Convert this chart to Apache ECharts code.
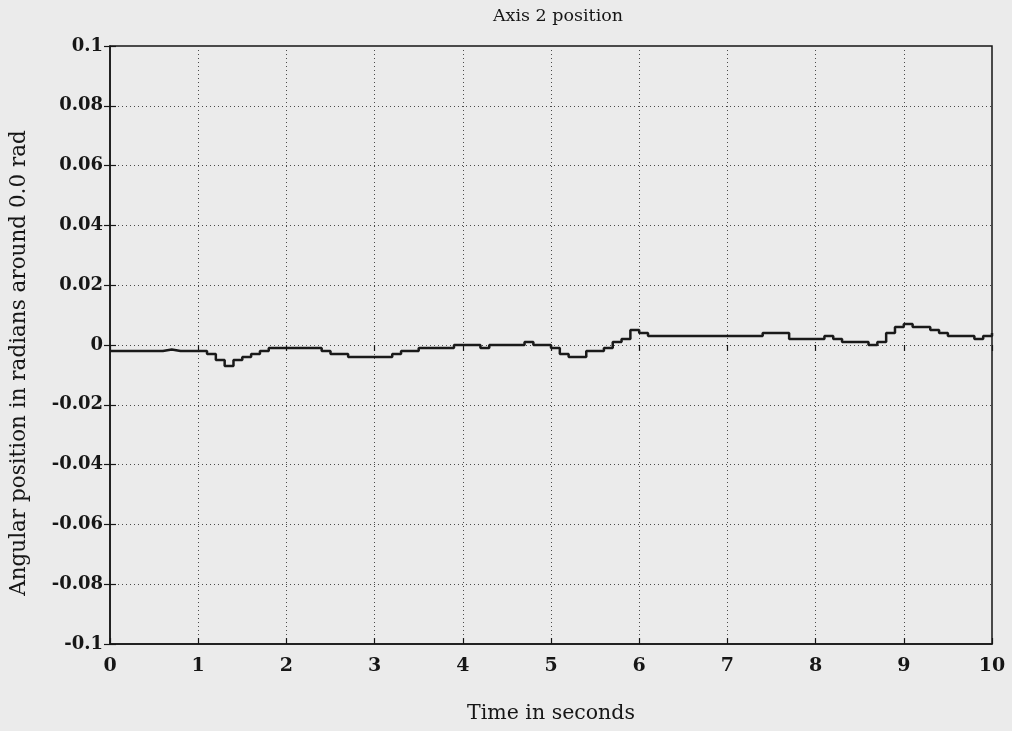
<!DOCTYPE html>
<html>
<head>
<meta charset="utf-8">
<title>Axis 2 position</title>
<script src="https://cdn.jsdelivr.net/npm/echarts@6/dist/echarts.min.js"></script>
<style>
  html, body { margin: 0; padding: 0; background: #ebebeb; }
  #chart { width: 1012px; height: 731px; }
</style>
</head>
<body>
<div id="chart"></div>
<script>
// Sample times (s), one reading every 0.1 s
const timeSeconds = [
  0.0, 0.1, 0.2, 0.3, 0.4, 0.5, 0.6, 0.7, 0.8, 0.9,
  1.0, 1.1, 1.2, 1.3, 1.4, 1.5, 1.6, 1.7, 1.8, 1.9,
  2.0, 2.1, 2.2, 2.3, 2.4, 2.5, 2.6, 2.7, 2.8, 2.9,
  3.0, 3.1, 3.2, 3.3, 3.4, 3.5, 3.6, 3.7, 3.8, 3.9,
  4.0, 4.1, 4.2, 4.3, 4.4, 4.5, 4.6, 4.7, 4.8, 4.9,
  5.0, 5.1, 5.2, 5.3, 5.4, 5.5, 5.6, 5.7, 5.8, 5.9,
  6.0, 6.1, 6.2, 6.3, 6.4, 6.5, 6.6, 6.7, 6.8, 6.9,
  7.0, 7.1, 7.2, 7.3, 7.4, 7.5, 7.6, 7.7, 7.8, 7.9,
  8.0, 8.1, 8.2, 8.3, 8.4, 8.5, 8.6, 8.7, 8.8, 8.9,
  9.0, 9.1, 9.2, 9.3, 9.4, 9.5, 9.6, 9.7, 9.8, 9.9,
  10.0
];

// Axis 2 angular position (rad) around 0.0 rad
const axis2Position = [
  -0.002, -0.002, -0.002, -0.002, -0.002, -0.002, -0.0015, -0.002, -0.002, -0.002,
  -0.002, -0.003, -0.005, -0.007, -0.005, -0.004, -0.003, -0.002, -0.001, -0.001,
  -0.001, -0.001, -0.001, -0.001, -0.002, -0.003, -0.003, -0.004, -0.004, -0.004,
  -0.004, -0.004, -0.003, -0.002, -0.002, -0.001, -0.001, -0.001, -0.001, 0.0,
  0.0, 0.0, -0.001, 0.0, 0.0, 0.0, 0.0, 0.001, 0.0, 0.0,
  -0.001, -0.003, -0.004, -0.004, -0.002, -0.002, -0.001, 0.001, 0.002, 0.005,
  0.004, 0.003, 0.003, 0.003, 0.003, 0.003, 0.003, 0.003, 0.003, 0.003,
  0.003, 0.003, 0.003, 0.003, 0.004, 0.004, 0.004, 0.002, 0.002, 0.002,
  0.002, 0.003, 0.002, 0.001, 0.001, 0.001, 0.0, 0.001, 0.004, 0.006,
  0.007, 0.006, 0.006, 0.005, 0.004, 0.003, 0.003, 0.003, 0.002, 0.003,
  0.004
];

// Tick layout
const xTicks = { min: 0, max: 10, step: 1 };
const yTicks = { min: -0.1, max: 0.1, step: 0.02 };

const FONT = '"DejaVu Serif", "Liberation Serif", serif';
const INK = '#161616';

const fmtY = v => String(parseFloat(Number(v).toFixed(2)));

const gridLine = { show: true, lineStyle: { color: '#4a4a4a', width: 1, type: [1, 3] } };
const innerTick = { show: true, inside: true, length: 6, lineStyle: { color: INK, width: 1.2 } };

const chart = echarts.init(document.getElementById('chart'), null, { renderer: 'canvas' });

chart.setOption({
  backgroundColor: '#ebebeb',
  animation: false,
  title: {
    text: 'Axis 2 position',
    left: 553, top: 2, textAlign: 'center',
    textStyle: { fontFamily: FONT, fontSize: 17.5, fontWeight: 'normal', color: INK }
  },
  grid: {
    left: 109, right: 20, top: 46, bottom: 87,
    show: true, borderColor: INK, borderWidth: 1.5, backgroundColor: 'transparent'
  },
  xAxis: [{
    type: 'value', min: xTicks.min, max: xTicks.max, interval: xTicks.step,
    name: 'Time in seconds', nameLocation: 'middle', nameGap: 59,
    nameTextStyle: { fontFamily: FONT, fontSize: 20.5, color: INK },
    axisLine: { show: true, onZero: false, lineStyle: { color: INK, width: 1.5 } },
    axisTick: innerTick,
    axisLabel: { fontFamily: FONT, fontSize: 19, fontWeight: 'bold', color: INK, margin: 13 },
    splitLine: gridLine
  }, {
    type: 'value', position: 'top', min: xTicks.min, max: xTicks.max, interval: xTicks.step,
    axisLine: { show: false }, axisTick: innerTick, axisLabel: { show: false }, splitLine: { show: false }
  }],
  yAxis: [{
    type: 'value', min: yTicks.min, max: yTicks.max, interval: yTicks.step,
    name: 'Angular position in radians around 0.0 rad', nameLocation: 'middle', nameGap: 80,
    nameTextStyle: { fontFamily: FONT, fontSize: 21.5, color: INK, padding: [0, 36, 0, 0] },
    axisLine: { show: true, onZero: false, lineStyle: { color: INK, width: 1.5 } },
    axisTick: innerTick,
    axisLabel: { fontFamily: FONT, fontSize: 18, fontWeight: 'bold', color: INK, margin: 7, formatter: fmtY },
    splitLine: gridLine
  }, {
    type: 'value', position: 'right', min: yTicks.min, max: yTicks.max, interval: yTicks.step,
    axisLine: { show: false }, axisTick: innerTick, axisLabel: { show: false }, splitLine: { show: false }
  }],
  series: [{
    type: 'line',
    xAxisIndex: 0, yAxisIndex: 0,
    data: timeSeconds.map((t, i) => [t, axis2Position[i]]),
    step: 'end',
    showSymbol: false,
    lineStyle: { color: '#1a1a1a', width: 2.5 }
  }]
});
</script>
</body>
</html>
